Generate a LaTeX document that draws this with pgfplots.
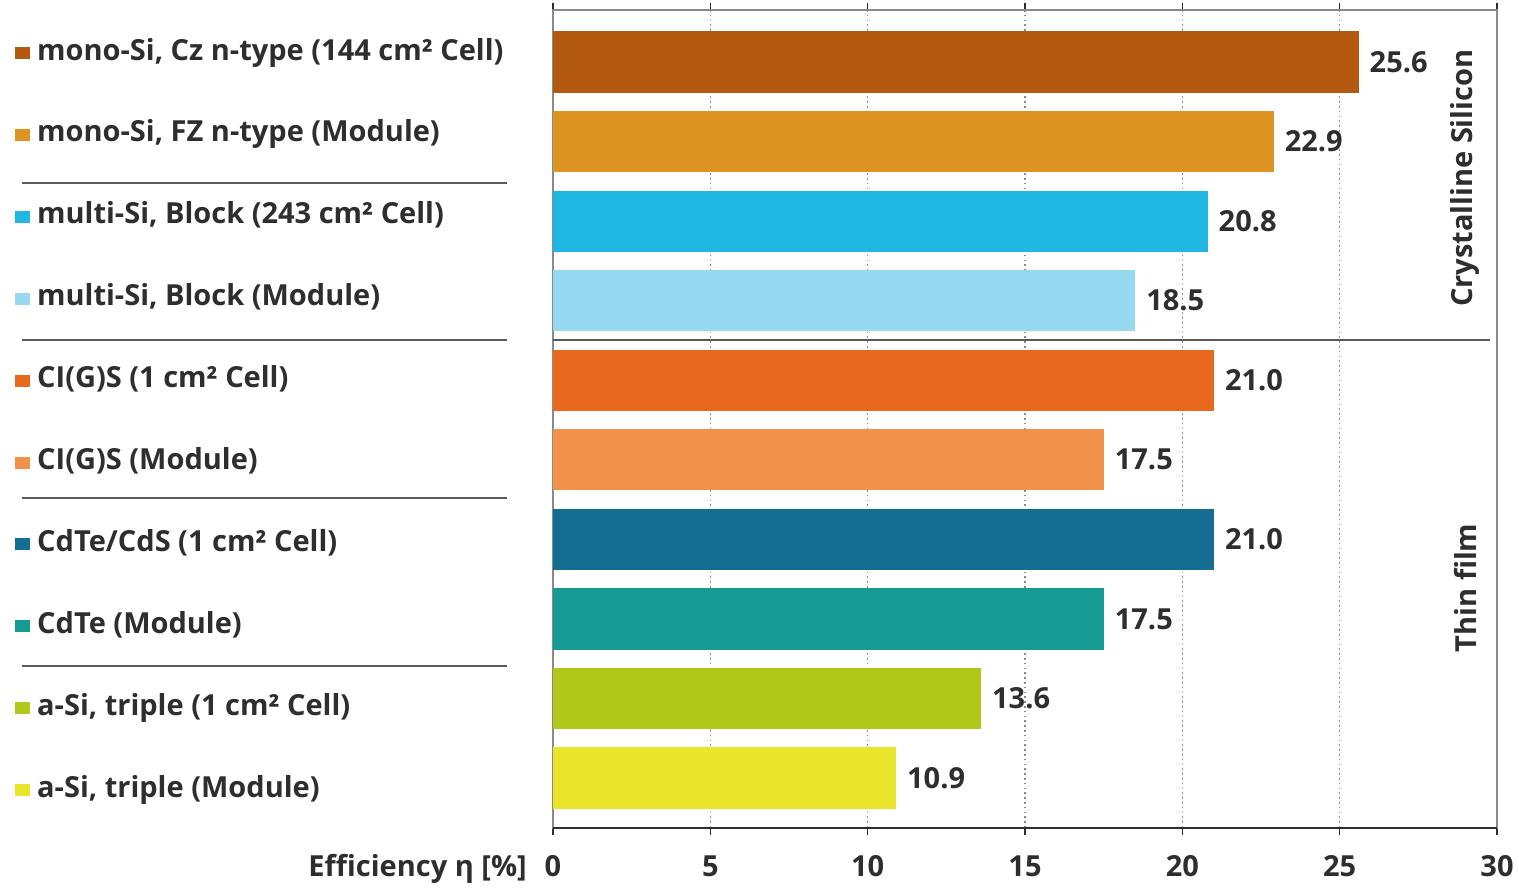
\documentclass[border=0pt]{standalone}
\usepackage{pgfplots}
\pgfplotsset{compat=1.18}
\usepackage{fontspec}
\setmainfont{Open Sans}

\definecolor{txt}{HTML}{2E2E2E}
\definecolor{frame}{HTML}{8A8A8A}
\definecolor{cMonoCz}{HTML}{B35A10}
\definecolor{cMonoFZ}{HTML}{DE9423}
\definecolor{cMultiC}{HTML}{20B8E3}
\definecolor{cMultiM}{HTML}{97D9F0}
\definecolor{cCigsC}{HTML}{E8691E}
\definecolor{cCigsM}{HTML}{F2914A}
\definecolor{cCdteC}{HTML}{146E91}
\definecolor{cCdteM}{HTML}{169A94}
\definecolor{cAsiC}{HTML}{B0C81A}
\definecolor{cAsiM}{HTML}{E8E52A}

\newcommand{\lbl}{\fontsize{29}{34}\selectfont\bfseries}
\newcommand{\sq}[1]{\raisebox{1pt}{\textcolor{#1}{\rule{15pt}{12pt}}}\hspace{7pt}}

\begin{document}
\begin{tikzpicture}[x=1pt,y=1pt]
\useasboundingbox (0,0) rectangle (1519,888);
\begin{axis}[
  at={(553pt,60pt)}, anchor=south west,
  scale only axis, width=944pt, height=818pt,
  xmin=0, xmax=30, ymin=-0.654, ymax=9.628, y dir=reverse,
  clip=false,
  xtick={0,5,...,30}, ytick=\empty,
  tick align=outside, major tick length=7pt,
  xtick style={draw=txt, line width=1.5pt},
  xmajorgrids,
  grid style={draw=frame, line width=1.6pt, dash pattern=on 1.6pt off 3.2pt},
  axis line style={draw=frame, line width=2.5pt},
  xticklabel style={font=\lbl, text=txt, anchor=base, yshift=-41pt},
  /pgf/number format/assume math mode=true,
  bar/.style={xbar, bar width=0.77, bar shift=0pt, fill=#1, draw=none},
  nodes near coords, point meta=x,
  nodes near coords style={font=\lbl, text=txt, anchor=west, inner sep=0pt, xshift=11pt,
    /pgf/number format/.cd, fixed, fixed zerofill, precision=1, assume math mode=true},
]
% efficiencies in percent, one bar per technology
\addplot[bar=cMonoCz] coordinates {(25.6,0)};
\addplot[bar=cMonoFZ] coordinates {(22.9,1)};
\addplot[bar=cMultiC] coordinates {(20.8,2)};
\addplot[bar=cMultiM] coordinates {(18.5,3)};
\addplot[bar=cCigsC]  coordinates {(21.0,4)};
\addplot[bar=cCigsM]  coordinates {(17.5,5)};
\addplot[bar=cCdteC]  coordinates {(21.0,6)};
\addplot[bar=cCdteM]  coordinates {(17.5,7)};
\addplot[bar=cAsiC]   coordinates {(13.6,8)};
\addplot[bar=cAsiM]   coordinates {(10.9,9)};

% darker bottom axis line
\draw[txt, line width=2.5pt] (axis cs:0,9.628) -- (axis cs:30,9.628);
% group divider inside the plot
\draw[black!65, line width=2pt] (axis cs:0,3.5) -- (axis cs:29.77,3.5);

% category labels with colour keys
\begin{scope}[every node/.style={anchor=base west, inner sep=0pt, font=\lbl, text=txt, xshift=-538pt}]
\node at (axis cs:0,-0.025) {\sq{cMonoCz}mono-Si, Cz n-type (144 cm² Cell)};
\node at (axis cs:0,1.004)  {\sq{cMonoFZ}mono-Si, FZ n-type (Module)};
\node at (axis cs:0,2.034)  {\sq{cMultiC}multi-Si, Block (243 cm² Cell)};
\node at (axis cs:0,3.063)  {\sq{cMultiM}multi-Si, Block (Module)};
\node at (axis cs:0,4.093)  {\sq{cCigsC}CI(G)S (1 cm² Cell)};
\node at (axis cs:0,5.122)  {\sq{cCigsM}CI(G)S (Module)};
\node at (axis cs:0,6.151)  {\sq{cCdteC}CdTe/CdS (1 cm² Cell)};
\node at (axis cs:0,7.181)  {\sq{cCdteM}CdTe (Module)};
\node at (axis cs:0,8.210)  {\sq{cAsiC}a-Si, triple (1 cm² Cell)};
\node at (axis cs:0,9.240)  {\sq{cAsiM}a-Si, triple (Module)};
\end{scope}

% separators between label groups
\draw[black!65, line width=2pt] (axis cs:-16.875,1.52) -- (axis cs:-1.462,1.52);
\draw[black!65, line width=2pt] (axis cs:-16.875,3.50) -- (axis cs:-1.462,3.50);
\draw[black!65, line width=2pt] (axis cs:-16.875,5.48) -- (axis cs:-1.462,5.48);
\draw[black!65, line width=2pt] (axis cs:-16.875,7.59) -- (axis cs:-1.462,7.59);

% group titles
\node[rotate=90, font=\lbl, text=txt] at (axis cs:28.98,1.46) {Crystalline Silicon};
\node[rotate=90, font=\lbl, text=txt] at (axis cs:28.98,6.61) {Thin film};

% axis title
\node[anchor=base east, inner sep=0pt, font=\lbl, text=txt, xshift=-26pt, yshift=-48pt]
  at (axis cs:0,9.628) {Efficiency η [\%]};
\end{axis}
\end{tikzpicture}
\end{document}
